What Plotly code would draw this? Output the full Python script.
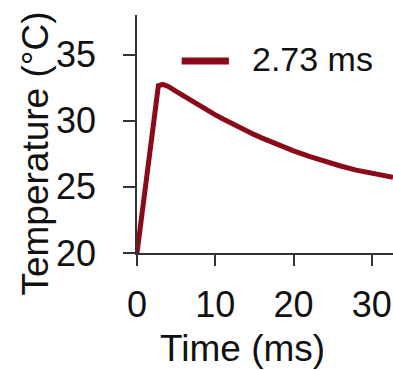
import plotly.graph_objects as go

# Data
time_ms = [0, 2.73, 3.3, 4, 5, 6, 7, 8, 9, 10, 11, 12, 13, 14, 15, 16, 17, 18, 19, 20,
           22, 24, 26, 28, 30, 32.7]
temperature_c = [20, 32.65, 32.75, 32.6, 32.22, 31.85, 31.48, 31.12, 30.78, 30.45, 30.13,
                 29.82, 29.52, 29.23, 28.95, 28.69, 28.44, 28.2, 27.97, 27.72,
                 27.3, 26.92, 26.58, 26.27, 26.0, 25.72]
series_name = "2.73 ms"
x_ticks = [0, 10, 20, 30]
y_ticks = [20, 25, 30, 35]

LINE_COLOR = "#8b0a1a"
AXIS_COLOR = "#333333"
FONT = "Liberation Sans, Arial, sans-serif"

fig = go.Figure()
fig.add_trace(go.Scatter(
    x=time_ms, y=temperature_c, mode="lines", name=series_name,
    line=dict(color=LINE_COLOR, width=5),
    showlegend=False,
))

fig.update_xaxes(
    range=[0, 32.7], tickvals=x_ticks, ticks="outside", ticklen=11, tickwidth=1.5,
    tickcolor=AXIS_COLOR, showline=True, linecolor=AXIS_COLOR, linewidth=1.5,
    showgrid=False, zeroline=False, ticklabelstandoff=8,
    tickfont=dict(family=FONT, size=36, color="#111111"),
)
fig.update_yaxes(
    range=[20, 38], tickvals=y_ticks, ticks="outside", ticklen=12, tickwidth=1.5,
    tickcolor=AXIS_COLOR, showline=True, linecolor=AXIS_COLOR, linewidth=1.5,
    showgrid=False, zeroline=False, ticklabelstandoff=20,
    tickfont=dict(family=FONT, size=36, color="#111111"),
)

# Legend drawn manually (long thick sample line + label)
fig.add_shape(type="line", xref="paper", yref="paper",
              x0=0.1746, x1=0.359, y0=0.807, y1=0.807,
              line=dict(color=LINE_COLOR, width=7))
fig.add_annotation(text=series_name, xref="paper", yref="paper", x=0.441, y=0.817,
                   xanchor="left", yanchor="middle", showarrow=False,
                   font=dict(family=FONT, size=34, color="#111111"))

# Axis titles
fig.add_annotation(text="Time (ms)", xref="paper", yref="paper", x=0.412, y=-0.403,
                   xanchor="center", yanchor="middle", showarrow=False,
                   font=dict(family=FONT, size=37, color="#111111"))
fig.add_annotation(text="Temperature (°C)", xref="paper", yref="paper", x=-0.3945, y=0.418,
                   xanchor="center", yanchor="middle", textangle=-90, showarrow=False,
                   font=dict(family=FONT, size=37, color="#111111"))

fig.update_layout(
    width=393, height=370, autosize=False,
    margin=dict(l=137, r=0, t=15, b=117),
    paper_bgcolor="white", plot_bgcolor="white",
    showlegend=False,
)

fig.write_html("out.html")
